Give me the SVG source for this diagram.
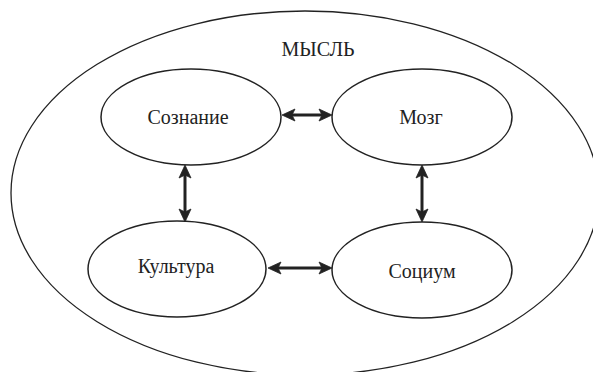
<svg xmlns="http://www.w3.org/2000/svg" width="593" height="372" viewBox="0 0 593 372">
<style>
.e{fill:none;stroke:#222;stroke-width:1.5}
.t{font-family:"Liberation Serif","Times New Roman",serif;font-size:20px;fill:#222;text-anchor:middle}
.c line{stroke:#222;stroke-width:3}
.c polygon{fill:#222;stroke:#222;stroke-width:0.8;stroke-linejoin:miter}
</style>
<rect width="593" height="372" fill="#fff"/>
<g id="mysl">
<ellipse class="e" cx="305" cy="193" rx="294" ry="182" style="stroke-width:1.3"/>
<text class="t" x="318" y="56">МЫСЛЬ</text>
</g>
<g id="soznanie">
<ellipse class="e" cx="191" cy="117" rx="90" ry="48"/>
<text class="t" x="188" y="124">Сознание</text>
</g>
<g id="mozg">
<ellipse class="e" cx="422" cy="117" rx="90" ry="48"/>
<text class="t" x="421" y="124">Мозг</text>
</g>
<g id="kultura">
<ellipse class="e" cx="177" cy="269" rx="89" ry="48"/>
<text class="t" x="176" y="273">Культура</text>
</g>
<g id="socium">
<ellipse class="e" cx="422" cy="270" rx="90" ry="48"/>
<text class="t" x="422" y="278">Социум</text>
</g>
<g id="connectors" class="c">
<line x1="290" y1="115" x2="324" y2="115"/>
<polygon points="282,115 295,109 292,115 295,121"/>
<polygon points="332,115 319,109 322,115 319,121"/>
<line x1="276" y1="268" x2="324" y2="268"/>
<polygon points="268,268 281,262 278,268 281,274"/>
<polygon points="332,268 319,262 322,268 319,274"/>
<line x1="185" y1="173" x2="185" y2="214"/>
<polygon points="185,165 179,178 185,175 191,178"/>
<polygon points="185,222 179,209 185,212 191,209"/>
<line x1="422" y1="173" x2="422" y2="214"/>
<polygon points="422,165 416,178 422,175 428,178"/>
<polygon points="422,222 416,209 422,212 428,209"/>
</g>
</svg>
